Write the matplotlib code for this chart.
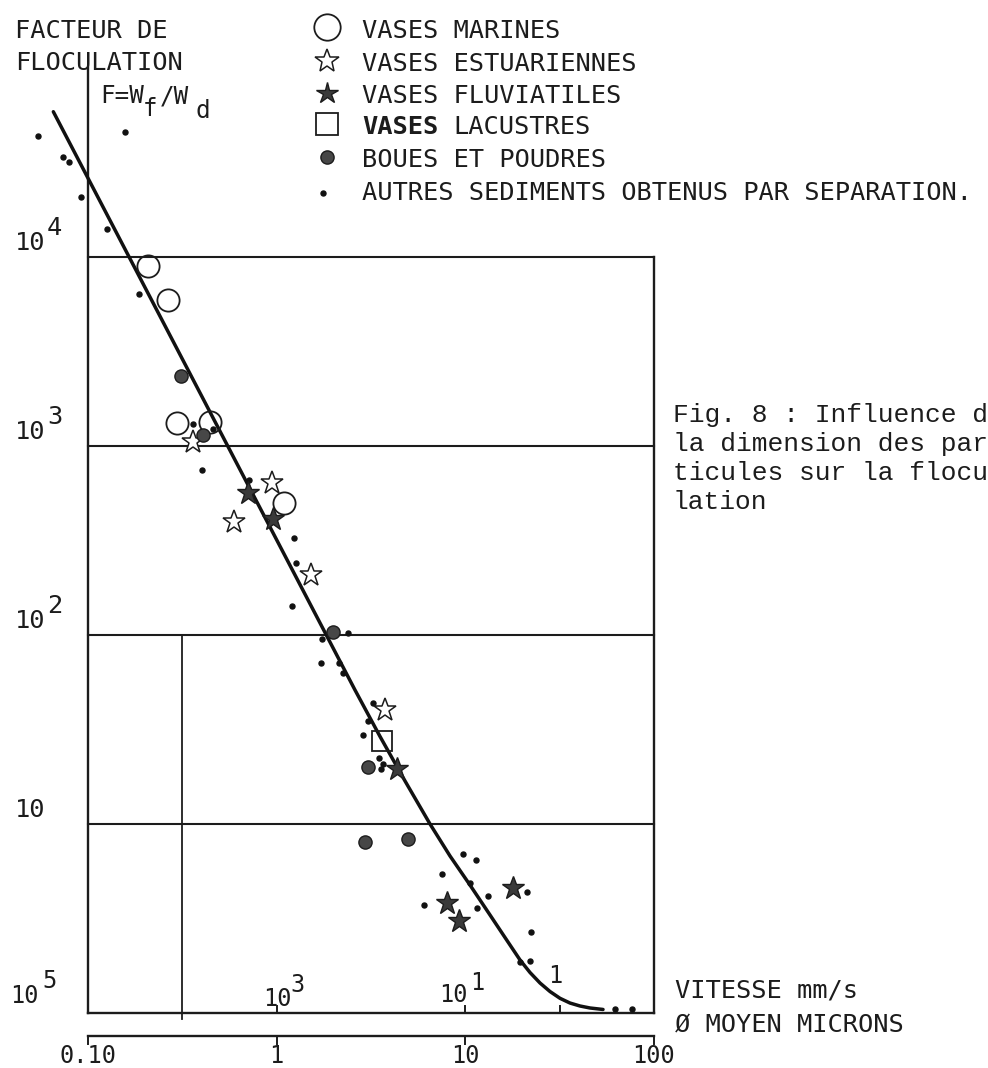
import math
import matplotlib
matplotlib.use("Agg")
import matplotlib.pyplot as plt

# ---------------- data (diametre moyen en microns, facteur F) ----------------
marine_d = [0.209, 0.265, 0.295, 0.443, 1.094]
marine_F = [8960, 5920, 1318, 1345, 497]

estuar_d = [0.359, 0.942, 0.597, 1.516, 3.757]
estuar_F = [1054, 637, 398, 208, 40.1]

fluv_d = [0.705, 0.957, 4.334, 7.98, 9.27, 17.99]
fluv_F = [561, 412, 19.5, 3.81, 3.08, 4.57]

lac_d = [3.608]
lac_F = [27.5]

boues_d = [0.310, 0.409, 2.00, 3.04, 2.953, 4.974]
boues_F = [2346, 1143, 104.1, 20.1, 8.0, 8.33]

autres_d = [0.0545, 0.0740, 0.0796, 0.157, 0.0915, 0.1265, 0.1864,
            0.359, 0.458, 0.401, 0.714,
            1.241, 1.263, 1.207,
            2.38, 1.741, 1.719, 2.150, 2.258,
            3.256, 3.063, 2.883, 3.504, 3.679, 3.578,
            9.70, 11.41, 7.56, 10.60, 21.19, 13.26, 6.07, 11.59, 22.33,
            19.53, 22.06, 62.3, 76.3]
autres_F = [43650, 33960, 31700, 45700, 20700, 14070, 6370,
            1303, 1235, 746, 661,
            326, 241, 142,
            102, 94.9, 71.5, 71.4, 62.7,
            43.8, 35.2, 29.6, 22.3, 20.8, 19.5,
            6.94, 6.45, 5.44, 4.89, 4.35, 4.16, 3.73, 3.58, 2.69,
            1.87, 1.89, 1.046, 1.046]

curve_d = [0.0655, 2.604, 3.535, 4.796, 6.508, 8.308, 10.60, 13.54, 16.26,
           19.53, 22.06, 24.93, 28.16, 31.82, 35.95, 40.62, 45.89, 53.8]
curve_F = [58700, 51.17, 29.04, 16.89, 10.0, 6.772, 4.756, 3.300, 2.508,
           1.908, 1.638, 1.441, 1.299, 1.196, 1.129, 1.089, 1.063, 1.044]

grid_F = [1e4, 1e3, 1e2, 10]              # horizontal lines
diam_ticks = [0.1, 1, 10, 100]
diam_labels = ["0.10", "1", "10", "100"]
vit_ticks = [1e3, 1e1, 1]                 # mm/s
legend_labels = ["VASES MARINES", "VASES ESTUARIENNES", "VASES FLUVIATILES",
                 "VASES LACUSTRES", "BOUES ET POUDRES",
                 "AUTRES SEDIMENTS OBTENUS PAR SEPARATION."]
caption = ["Fig. 8 : Influence d", "la dimension des par",
           "ticules sur la flocu", "lation"]

# ---------------- layout ----------------
W, H = 988, 1068
X0, XD = 88.0, 188.6     # pixel of d=0.1, pixels per decade
Y0, YD = 1013.0, 189.0   # pixel of F=1, pixels per decade
INK = "#1c1c1c"
MONO = "DejaVu Sans Mono"

fig = plt.figure(figsize=(W / 100, H / 100), dpi=100)
fig.patch.set_facecolor("white")
ax = fig.add_axes([0, 0, 1, 1])
ax.set_xscale("log")
ax.set_yscale("log")
ax.set_xlim(10 ** (-1 - X0 / XD), 10 ** (-1 + (W - X0) / XD))
ax.set_ylim(10 ** (-(H - Y0) / YD), 10 ** (Y0 / YD))
ax.axis("off")

ov = fig.add_axes([0, 0, 1, 1])   # pixel overlay for text / legend
ov.set_xlim(0, W)
ov.set_ylim(H, 0)
ov.axis("off")
ov.patch.set_alpha(0)


def fpx(dpx):
    """F multiplier corresponding to dpx pixels (upwards)."""
    return 10 ** (dpx / YD)


def xpix(d):
    return X0 + XD * (math.log10(d) + 1)


LW = 1.7
# frame / grid lines
ax.plot([0.1, 0.1], [1, 1e5], color=INK, lw=LW)
ax.plot([100, 100], [1, 1e4], color=INK, lw=LW)
ax.plot([0.1, 100], [1, 1], color=INK, lw=LW)
for f in grid_F:
    ax.plot([0.1, 100], [f, f], color=INK, lw=1.5)
# vertical line at velocity 10^4 mm/s  (v = 1000 / d^2)
dv4 = (1000 / 1e4) ** 0.5
ax.plot([dv4, dv4], [fpx(-6), 1e2], color=INK, lw=1.3)
# velocity ticks
for v in vit_ticks:
    dv = (1000 / v) ** 0.5
    ax.plot([dv, dv], [1, fpx(7)], color=INK, lw=1.4)
# lower (diameter) axis
F_low = fpx(-23)
ax.plot([0.1, 100], [F_low, F_low], color=INK, lw=LW)
for d in diam_ticks:
    ax.plot([d, d], [F_low, F_low / fpx(8)], color=INK, lw=1.4)

# fitted curve
ax.plot(curve_d, curve_F, color="#111111", lw=2.5, solid_capstyle="round",
        solid_joinstyle="round", zorder=3)

# data points
ax.plot(autres_d, autres_F, "o", ms=3.6, color="#111111", ls="none", zorder=4)
ax.plot(marine_d, marine_F, "o", ms=16, mfc="none", mec=INK, mew=1.3,
        ls="none", zorder=5)
ax.plot(estuar_d, estuar_F, "*", ms=17, mfc="white", mec=INK, mew=1.1,
        ls="none", zorder=5)
ax.plot(fluv_d, fluv_F, "*", ms=17, mfc="#3a3a3a", mec=INK, mew=1.0,
        ls="none", zorder=5)
ax.plot(lac_d, lac_F, "s", ms=15, mfc="none", mec=INK, mew=1.3,
        ls="none", zorder=5)
ax.plot(boues_d, boues_F, "o", ms=9.5, mfc="#474747", mec=INK, mew=1.0,
        ls="none", zorder=5)


def txt(x, y, s, size=18.3, family=MONO, ha="left", **kw):
    ov.text(x, y, s, fontsize=size, family=family, ha=ha, va="baseline",
            color=INK, **kw)


# title of y axis
txt(15, 38, "FACTEUR DE")
txt(15, 70, "FLOCULATION")
txt(100, 103, "F=W", size=17.5)
txt(143, 116, "f", size=17.5)
txt(160, 103, "/W", size=17.5)
txt(195, 118, "d", size=17.5)

# y labels
for f, yb in zip(grid_F, [250, 439, 628, 817]):
    txt(15, yb, "10")
    if f > 10:
        txt(47, yb - 15, str(int(round(math.log10(f)))))

# velocity labels
txt(10, 1003, "10", size=17)
txt(42, 988, "5", size=17)
txt(263, 1006, "10", size=17)
txt(290, 992, "3", size=17)
txt(439, 1002, "10", size=17)
txt(470, 990, "1", size=17)
txt(548, 983, "1", size=17)

# diameter labels
for d, lab in zip(diam_ticks, diam_labels):
    txt(xpix(d), 1063, lab, size=17, ha="center")

txt(675, 998, "VITESSE mm/s")
txt(675, 1032, "\u00d8 MOYEN MICRONS")

# legend
mx = 326.7
rows_c = [27, 60.5, 92.5, 124, 156.5, 190]
ov.plot(mx, rows_c[0], "o", ms=19, mfc="none", mec=INK, mew=1.3)
ov.plot(mx, rows_c[1], "*", ms=18, mfc="white", mec=INK, mew=1.1)
ov.plot(mx, rows_c[2], "*", ms=16, mfc="#3a3a3a", mec=INK, mew=1.0)
ov.plot(mx, rows_c[3], "s", ms=16, mfc="none", mec=INK, mew=1.3)
ov.plot(mx, rows_c[4], "o", ms=9.5, mfc="#474747", mec=INK, mew=1.0)
ov.plot(mx - 4, rows_c[5] + 3, "o", ms=3.6, color="#111111")
for i, (lab, c) in enumerate(zip(legend_labels, rows_c)):
    if i == 3:
        txt(362, c + 10.5, "VASES", fontweight="bold")
        txt(362 + 6 * 15.25, c + 10.5, lab.split(" ", 1)[1])
    else:
        txt(362, c + 10.5, lab)

# caption
for i, line in enumerate(caption):
    txt(673, 422 + 29 * i, line, size=18.9, family="Liberation Mono")

fig.savefig("out.png", dpi=100, facecolor="white")
